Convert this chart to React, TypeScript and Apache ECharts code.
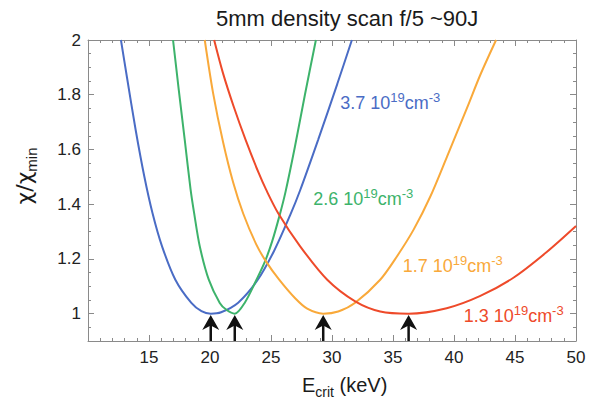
import React, { useEffect, useRef } from "react";
import * as echarts from "echarts";

const FONT = "'Liberation Sans', Arial, Helvetica, sans-serif";

const titleText = "5mm density scan f/5 ~90J";
const xRange = [10, 50];
const yRange = [0.9, 2];

// [E_crit (keV), chi/chi_min]
const blue37 = [
  [12.7, 2.0], [13.2, 1.862], [13.9, 1.673], [14.6, 1.505], [15.29, 1.367],
  [16.07, 1.246], [17.16, 1.124], [18.47, 1.039], [19.3, 1.009], [20.06, 1.0],
  [20.91, 1.005], [22.31, 1.04], [23.86, 1.12], [25.26, 1.23], [26.57, 1.36],
  [27.39, 1.451], [28.87, 1.636], [30.43, 1.839], [31.63, 2.0],
];
const green26 = [
  [16.97, 2.0], [17.44, 1.818], [17.93, 1.635], [18.41, 1.453], [18.7, 1.367],
  [19.16, 1.246], [19.9, 1.124], [20.8, 1.039], [21.32, 1.015], [22.03, 1.0],
  [22.85, 1.04], [23.81, 1.124], [24.5, 1.19], [25.1, 1.265], [25.71, 1.36],
  [26.19, 1.445], [26.96, 1.61], [27.78, 1.8], [28.68, 2.0],
];
const orange17 = [
  [19.57, 2.0], [20.25, 1.807], [21.07, 1.627], [21.9, 1.479], [22.72, 1.366],
  [23.78, 1.254], [24.6, 1.19], [25.67, 1.124], [26.98, 1.056], [27.97, 1.018],
  [29.28, 1.0], [30.51, 1.008], [31.9, 1.04], [33.95, 1.124], [35.32, 1.209],
  [36.69, 1.307], [38.06, 1.428], [39.43, 1.574], [41.07, 1.752], [42.16, 1.873],
  [43.45, 2.0],
];
const red13 = [
  [20.34, 2.0], [21.07, 1.878], [21.94, 1.757], [22.92, 1.635], [23.99, 1.514],
  [24.6, 1.453], [25.59, 1.367], [27.39, 1.246], [29.61, 1.124], [31.9, 1.045],
  [33.95, 1.008], [36.28, 1.0], [39.4, 1.02], [42.16, 1.065], [44.9, 1.132],
  [47.6, 1.225], [50.0, 1.32],
];

const densities = ["3.7", "2.6", "1.7", "1.3"];
const colors = ["#4a6cc5", "#3db36b", "#f9a93a", "#ee4a2a"];
const labelAnchors = [
  [30.67, 1.777],
  [28.46, 1.423],
  [35.8, 1.179],
  [40.79, 0.996],
];
const minimaX = [20.06, 22.03, 29.28, 36.28];

const curves = [blue37, green26, orange17, red13];

const axisColor = "#8a8a8a";

function makeX(position: string, interval: number, major: boolean) {
  return {
    type: "value",
    position,
    min: xRange[0],
    max: xRange[1],
    interval,
    axisLine: { show: major, onZero: false, lineStyle: { color: axisColor, width: 1 } },
    axisTick: { show: true, inside: true, length: major ? 6 : 3, lineStyle: { color: axisColor } },
    axisLabel: {
      show: major && position === "bottom",
      showMinLabel: false,
      fontSize: 17,
      color: "#222",
      fontFamily: FONT,
      margin: 8,
    },
    splitLine: { show: false },
  };
}

function makeY(position: string, major: boolean) {
  const base: any = {
    type: "value",
    position,
    min: yRange[0],
    max: yRange[1],
    axisLine: { show: major, onZero: false, lineStyle: { color: axisColor, width: 1 } },
    axisTick: { show: true, inside: true, length: major ? 6 : 3, lineStyle: { color: axisColor } },
    axisLabel: {
      show: major && position === "left",
      showMinLabel: false,
      fontSize: 17,
      color: "#222",
      fontFamily: FONT,
      margin: 7,
      formatter: (v: number) => String(Number(v.toFixed(2))),
    },
    splitLine: { show: false },
  };
  if (major) base.splitNumber = 5;
  else base.interval = 0.05;
  return base;
}

export default function App() {
  const ref = useRef<HTMLDivElement>(null);
  useEffect(() => {
    if (!ref.current) return;
    const chart = echarts.init(ref.current, undefined, { renderer: "svg" });
    const series: any[] = curves.map((data, i) => ({
      type: "line",
      name: densities[i],
      data,
      smooth: 0.3,
      symbol: "none",
      showSymbol: false,
      xAxisIndex: 0,
      yAxisIndex: 0,
      lineStyle: { color: colors[i], width: 2 },
      itemStyle: { color: colors[i] },
      markPoint: {
        symbol: "circle",
        symbolSize: 0,
        silent: true,
        data: [{ coord: labelAnchors[i] }],
        label: {
          show: true,
          position: "right",
          distance: 0,
          formatter: `{a|${densities[i]} 10}{s|19}{a|cm}{s|-3}`,
          rich: {
            a: { fontSize: 18, lineHeight: 21, color: colors[i], fontFamily: FONT, verticalAlign: "bottom" },
            s: { fontSize: 13, lineHeight: 13, color: colors[i], fontFamily: FONT, verticalAlign: "top" },
          },
        },
      },
    }));
    series.push({
      type: "custom",
      xAxisIndex: 0,
      yAxisIndex: 0,
      silent: true,
      clip: false,
      z: 5,
      data: minimaX.map((x) => [x, yRange[0]]),
      renderItem: (_p: any, api: any) => {
        const pt = api.coord([api.value(0), api.value(1)]);
        const tx = pt[0];
        const by = pt[1];
        const ty = by - 26;
        return {
          type: "group",
          children: [
            {
              type: "line",
              shape: { x1: tx, y1: ty + 10, x2: tx, y2: by },
              style: { stroke: "#111", lineWidth: 2.5 },
            },
            {
              type: "polygon",
              shape: { points: [[tx, ty], [tx + 8.5, ty + 15], [tx, ty + 10.5], [tx - 8.5, ty + 15]] },
              style: { fill: "#111" },
            },
          ],
        };
      },
    });

    chart.setOption({
      animation: false,
      backgroundColor: "#ffffff",
      grid: { left: 88, right: 17, top: 40, bottom: 60, containLabel: false },
      xAxis: [makeX("bottom", 5, true), makeX("bottom", 1, false), makeX("top", 5, true), makeX("top", 1, false)],
      yAxis: [makeY("left", true), makeY("left", false), makeY("right", true), makeY("right", false)],
      series,
      graphic: [
        {
          type: "text",
          left: 216,
          top: 7,
          style: { text: titleText, fontSize: 22, fill: "#1a1a1a", fontFamily: FONT },
        },
        {
          type: "text",
          x: 302,
          y: 387,
          style: {
            text: "{a|E}{b|crit}{a| (keV)}",
            verticalAlign: "middle",
            align: "left",
            rich: {
              a: { fontSize: 20, lineHeight: 24, fill: "#1a1a1a", fontFamily: FONT, verticalAlign: "top" },
              b: { fontSize: 14, lineHeight: 14, fill: "#1a1a1a", fontFamily: FONT, verticalAlign: "bottom" },
            },
          },
        },
        {
          type: "text",
          x: 26,
          y: 176,
          rotation: Math.PI / 2,
          style: {
            text: "{a|χ/χ}{b|min}",
            verticalAlign: "middle",
            align: "center",
            rich: {
              a: { fontSize: 22, lineHeight: 26, fill: "#1a1a1a", fontFamily: "'DejaVu Sans', sans-serif", verticalAlign: "top" },
              b: { fontSize: 15, lineHeight: 15, fill: "#1a1a1a", fontFamily: FONT, verticalAlign: "bottom" },
            },
          },
        },
      ],
    });
    return () => chart.dispose();
  }, []);
  return (
    <div
      ref={ref}
      style={{ position: "fixed", left: 0, top: 0, width: 593, height: 401, background: "#fff" }}
    />
  );
}
